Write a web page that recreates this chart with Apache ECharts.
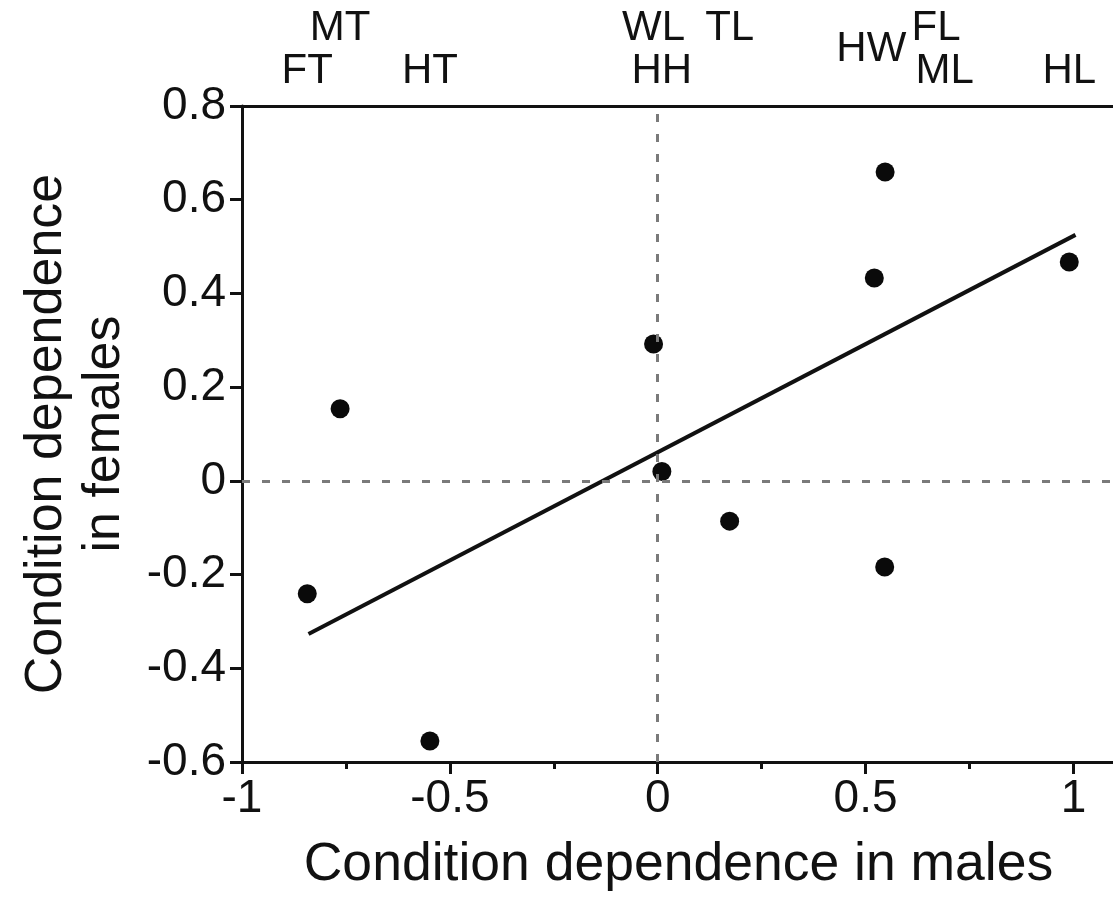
<!DOCTYPE html>
<html>
<head>
<meta charset="utf-8">
<script src="https://cdn.jsdelivr.net/npm/echarts@6/dist/echarts.min.js"></script>
<style>
  html, body { margin: 0; padding: 0; background: #fff; }
  #chart { width: 1113px; height: 903px; }
</style>
</head>
<body>
<div id="chart"></div>
<script>
// Trait codes and their condition dependence in each sex
var traits    = ['FT', 'MT', 'HT', 'WL', 'HH', 'TL', 'HW', 'FL', 'ML', 'HL'];
var maleCD    = [-0.843, -0.764, -0.548, -0.010, 0.010, 0.173, 0.521, 0.547, 0.546, 0.990];
var femaleCD  = [-0.241, 0.154, -0.555, 0.292, 0.020, -0.086, 0.433, 0.659, -0.184, 0.467];

// Fitted regression line (end points)
var fitX = [-0.840, 1.005];
var fitY = [-0.327, 0.525];

// Axis settings
var xTickLabels = ['-1', '-0.5', '0', '0.5', '1'];
var yTickLabels = ['-0.6', '-0.4', '-0.2', '0', '0.2', '0.4', '0.6', '0.8'];

var FONT = '"Liberation Sans", Arial, Helvetica, sans-serif';
var INK = '#111';

// Placement of the trait codes above the frame (two staggered rows)
var labelPlacement = {
  FT: { row: 2, dx: 0 }, MT: { row: 1, dx: 0 }, HT: { row: 2, dx: 0 },
  WL: { row: 1, dx: 0 }, HH: { row: 2, dx: 0 }, TL: { row: 1, dx: 0 },
  HW: { row: 1.5, dx: -3 }, FL: { row: 1, dx: 51 }, ML: { row: 2, dx: 60 },
  HL: { row: 2, dx: 0 }
};
var rowOffset = { 1: -78, 1.5: -57, 2: -35 };

function fmtX(v) {
  for (var i = 0; i < xTickLabels.length; i++) {
    if (Math.abs(parseFloat(xTickLabels[i]) - v) < 1e-6) return xTickLabels[i];
  }
  return '';
}
function fmtY(v) {
  for (var i = 0; i < yTickLabels.length; i++) {
    if (Math.abs(parseFloat(yTickLabels[i]) - v) < 1e-6) return yTickLabels[i];
  }
  return '';
}

var points = traits.map(function (t, i) { return [maleCD[i], femaleCD[i]]; });
var codeMarks = traits.map(function (t, i) {
  var p = labelPlacement[t];
  return {
    value: [maleCD[i], 0.8],
    name: t,
    label: { offset: [p.dx, rowOffset[p.row]] }
  };
});
var fitLine = fitX.map(function (x, i) { return [x, fitY[i]]; });

var chart = echarts.init(document.getElementById('chart'), null, { renderer: 'canvas' });

var baseX = {
  type: 'value',
  min: -1,
  max: 1.1,
  gridIndex: 0,
  splitLine: { show: false }
};

chart.setOption({
  animation: false,
  backgroundColor: '#fff',
  grid: {
    left: 242, right: -2, top: 106, bottom: 141,
    containLabel: false, outerBoundsMode: 'none'
  },
  xAxis: [
    // bottom axis: line, short ticks every 0.25, labels every 0.5
    Object.assign({}, baseX, {
      position: 'bottom',
      interval: 0.25,
      axisLine: { show: true, onZero: false, lineStyle: { color: INK, width: 3 } },
      axisTick: { show: true, inside: false, length: 7, lineStyle: { color: INK, width: 3 } },
      axisLabel: {
        show: true, margin: 14, color: INK, fontFamily: FONT, fontSize: 46,
        formatter: fmtX, showMaxLabel: false
      },
      name: 'Condition dependence in males',
      nameLocation: 'middle',
      nameGap: 76,
      nameTextStyle: { color: INK, fontFamily: FONT, fontSize: 53.5 }
    }),
    // bottom axis: longer ticks at the labelled values
    Object.assign({}, baseX, {
      position: 'bottom',
      interval: 0.5,
      axisLine: { show: false, onZero: false },
      axisTick: { show: true, inside: false, length: 12, lineStyle: { color: INK, width: 3 } },
      axisLabel: { show: false }
    }),
    // top frame line
    Object.assign({}, baseX, {
      position: 'top',
      interval: 0.5,
      axisLine: { show: true, onZero: false, lineStyle: { color: INK, width: 3 } },
      axisTick: { show: false },
      axisLabel: { show: false }
    })
  ],
  yAxis: {
    type: 'value',
    min: -0.6,
    max: 0.8,
    interval: 0.2,
    position: 'left',
    splitLine: { show: false },
    axisLine: { show: true, onZero: false, lineStyle: { color: INK, width: 3 } },
    axisTick: { show: true, inside: false, length: 12, lineStyle: { color: INK, width: 3 } },
    axisLabel: { margin: 16, color: INK, fontFamily: FONT, fontSize: 46, formatter: fmtY },
    name: 'Condition dependence\nin females',
    nameLocation: 'middle',
    nameGap: 108,
    nameTextStyle: { color: INK, fontFamily: FONT, fontSize: 52, lineHeight: 58 }
  },
  series: [
    {
      name: 'fit',
      type: 'line',
      xAxisIndex: 0,
      data: fitLine,
      symbol: 'none',
      lineStyle: { color: INK, width: 4 },
      z: 3,
      markLine: {
        silent: true,
        symbol: 'none',
        label: { show: false },
        lineStyle: { color: '#7a7a7a', width: 3, type: [8, 12] },
        data: [{ xAxis: 0 }, { yAxis: 0 }]
      }
    },
    {
      name: 'traits',
      type: 'scatter',
      xAxisIndex: 0,
      data: points,
      symbol: 'circle',
      symbolSize: 19,
      itemStyle: { color: '#0a0a0a', opacity: 1 },
      z: 4
    },
    {
      name: 'codes',
      type: 'scatter',
      xAxisIndex: 0,
      clip: false,
      data: codeMarks,
      symbolSize: 0,
      silent: true,
      itemStyle: { opacity: 1 },
      label: {
        show: true,
        position: 'inside',
        formatter: '{b}',
        color: INK,
        fontFamily: FONT,
        fontSize: 42
      }
    }
  ]
});
</script>
</body>
</html>
